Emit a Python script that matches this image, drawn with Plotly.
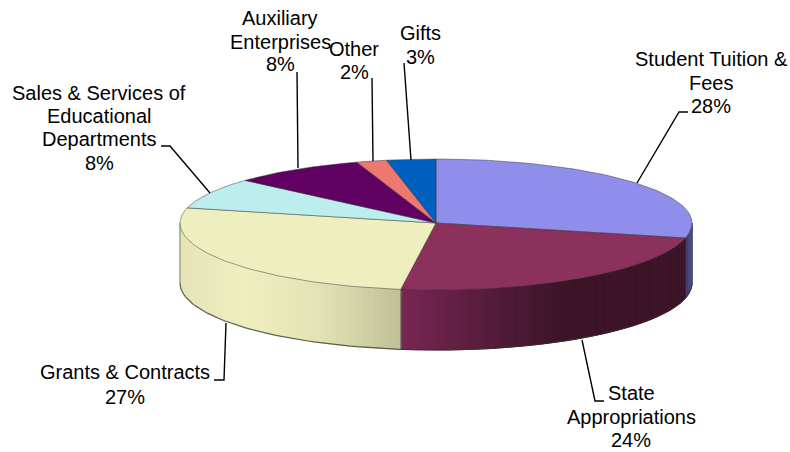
import math
import plotly.graph_objects as go

categories = ["Student Tuition &<br>Fees", "State<br>Appropriations", "Grants & Contracts",
              "Sales & Services of<br>Educational<br>Departments", "Auxiliary<br>Enterprises",
              "Other", "Gifts"]
values = [28.6, 23.6, 26.6, 7.8, 8.4, 1.9, 3.1]
percent_labels = ["28%", "24%", "27%", "8%", "8%", "2%", "3%"]

top_colors = ["#8F8FEB", "#8C305C", "#EEEEBE", "#BCEEEE", "#600060", "#EE7870", "#0060C0"]
wall_grad = {
    0: [(685, (58, 58, 100)), (692, (84, 84, 140))],
    1: [(401, (118, 38, 82)), (470, (92, 30, 64)), (560, (60, 20, 40)), (692, (60, 20, 40))],
    2: [(180, (228, 228, 184)), (245, (238, 238, 190)), (320, (226, 226, 180)), (401, (192, 192, 152))],
}
label_x = [711, 631, 125, 99, 280, 354, 420]
label_y = [[59, 83, 106], [393, 417, 440], [372, 397], [93, 116, 139, 163], [18, 42, 64], [49, 72], [33, 57]]
leaders = [
    ([637, 679, 688], [183, 112, 112]),
    ([582, 595, 604], [340, 401, 401]),
    ([226, 224, 214], [323, 380, 380]),
    ([210, 170, 161], [193, 146, 146]),
    ([298, 297], [168, 72]),
    ([373, 372], [161, 78]),
    ([411, 404], [160, 63]),
]

CX, CY, RX, RY_BACK, RY_FRONT, DEPTH = 436, 223, 256, 64, 67, 60
FONT = dict(family="Liberation Sans, Arial, sans-serif", size=20, color="#000")


def pt(deg, dy=0):
    r = math.radians(deg)
    c = math.cos(r)
    ry = RY_BACK if c > 0 else RY_FRONT
    return CX + RX * math.sin(r), CY - ry * c + dy


def interp(stops, x):
    if x <= stops[0][0]:
        return stops[0][1]
    for (a, ca), (b, cb) in zip(stops, stops[1:]):
        if x <= b:
            t = (x - a) / (b - a)
            return tuple(round(p + (q - p) * t) for p, q in zip(ca, cb))
    return stops[-1][1]


fig = go.Figure()
total = sum(values)
edges = [0]
for v in values:
    edges.append(edges[-1] + 360 * v / total)


def poly(xs, ys, fill, line=None, width=1):
    fig.add_trace(go.Scatter(x=xs, y=ys, mode="lines", fill="toself", fillcolor=fill,
                             line=dict(color=line or fill, width=width),
                             hoverinfo="skip", showlegend=False))


# side walls, only where the rim faces the viewer
for i, stops in wall_grad.items():
    a0 = max(edges[i], 90)
    a1 = min(edges[i + 1], 270)
    n = max(2, int((a1 - a0) / 1.5))
    for k in range(n):
        s0 = a0 + (a1 - a0) * k / n
        s1 = a0 + (a1 - a0) * (k + 1) / n
        x0, y0 = pt(s0)
        x1, y1 = pt(s1)
        col = "rgb(%d,%d,%d)" % interp(stops, (x0 + x1) / 2)
        poly([x0, x1, x1, x0, x0], [y0, y1, y1 + DEPTH, y0 + DEPTH, y0], col)

# rim shadow line along the bottom of the wall and side verticals
arc = [90 + j * 1.5 for j in range(121)]
fig.add_trace(go.Scatter(x=[pt(a, DEPTH)[0] for a in arc], y=[pt(a, DEPTH)[1] for a in arc],
                         mode="lines", line=dict(color="rgba(50,50,50,0.75)", width=1.2),
                         hoverinfo="skip", showlegend=False))
for a in (edges[1], edges[2], 90, 270):
    x, y = pt(a)
    fig.add_trace(go.Scatter(x=[x, x], y=[y, y + DEPTH], mode="lines",
                             line=dict(color="rgba(60,60,60,0.55)", width=1),
                             hoverinfo="skip", showlegend=False))

# top face
for i, col in enumerate(top_colors):
    a0, a1 = edges[i], edges[i + 1]
    n = max(2, int((a1 - a0) / 1.5))
    arc_a = [a0 + (a1 - a0) * k / n for k in range(n + 1)]
    xs = [CX] + [pt(a)[0] for a in arc_a] + [CX]
    ys = [CY] + [pt(a)[1] for a in arc_a] + [CY]
    poly(xs, ys, col, "rgba(50,50,60,0.6)", 0.8)

# leader lines
for lx, ly in leaders:
    fig.add_trace(go.Scatter(x=lx, y=ly, mode="lines", line=dict(color="#000", width=1.4),
                             hoverinfo="skip", showlegend=False))

annotations = []
for name, pct, x, ys in zip(categories, percent_labels, label_x, label_y):
    lines = name.split("<br>") + [pct]
    for text, y in zip(lines, ys):
        annotations.append(dict(x=x, y=y, xref="x", yref="y", text=text, showarrow=False,
                                font=FONT, align="center", xanchor="center", yanchor="middle"))

fig.update_layout(
    width=790, height=452, margin=dict(l=0, r=0, t=0, b=0),
    paper_bgcolor="white", plot_bgcolor="white", annotations=annotations,
    xaxis=dict(range=[0, 790], visible=False, fixedrange=True),
    yaxis=dict(range=[452, 0], visible=False, fixedrange=True),
)
fig.write_html("out.html", config={"displayModeBar": False},
               post_script="document.body.style.margin='0';")
